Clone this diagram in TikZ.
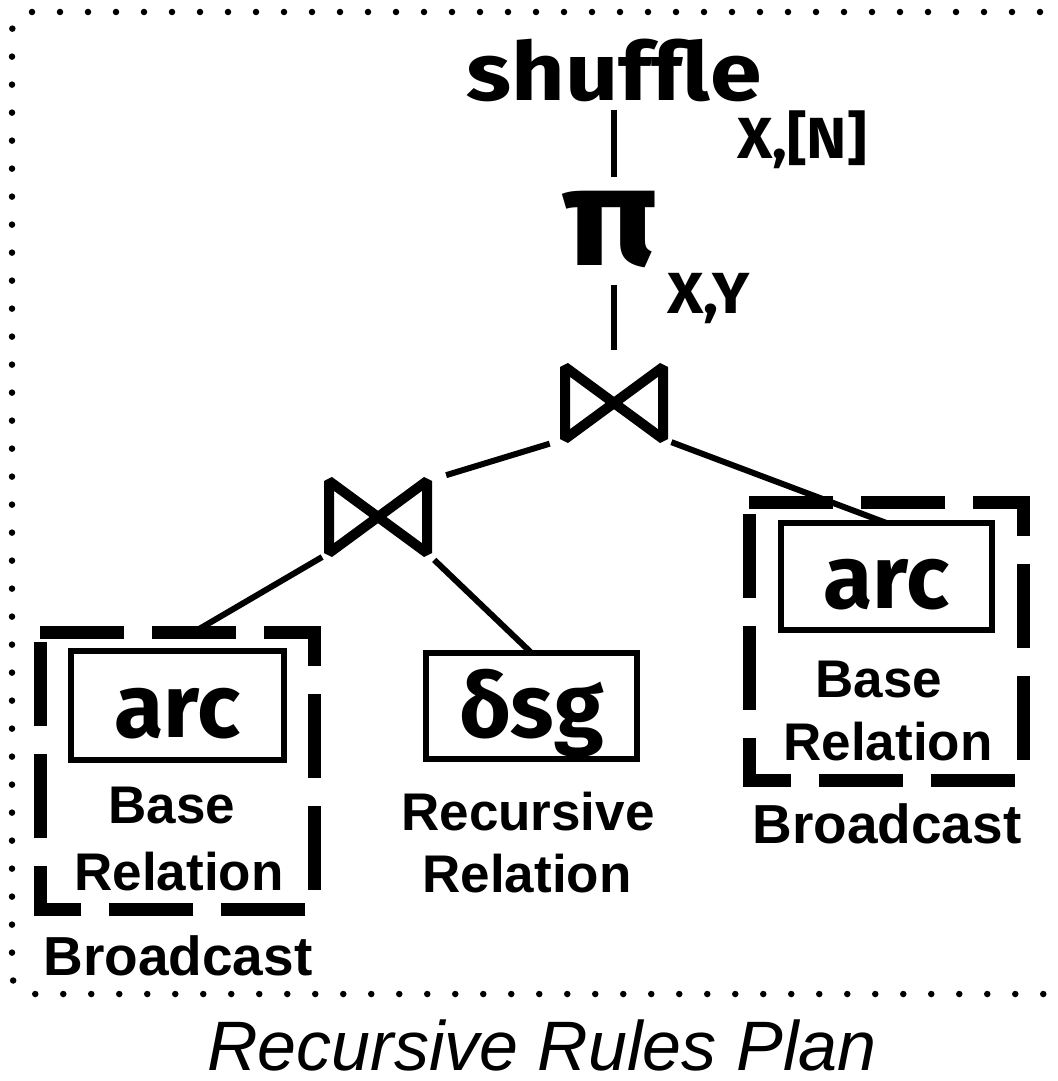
\documentclass[tikz,border=0pt]{standalone}
\usepackage{fontspec}
\setmainfont{Liberation Sans}
\newfontfamily\lucfont{Fira Sans}
\begin{document}
\begin{tikzpicture}[x=1pt,y=-1pt,
  conn/.style={line width=6pt},
  solidbox/.style={draw,line width=6pt,inner sep=0pt,outer sep=0pt},
  dashframe/.style={line width=13pt,dash pattern=on 84pt off 28pt,line join=miter},
  holder/.style={inner sep=0pt,outer sep=0pt},
  bowtie/.style={inner sep=0pt,outer sep=0pt,minimum width=98pt,minimum height=72pt},
  btline/.style={line width=10pt,line join=bevel},
  lab/.style={font=\fontsize{53}{60}\selectfont\bfseries,anchor=base,inner sep=0pt},
  bigtxt/.style={font=\fontsize{90}{90}\selectfont\lucfont\bfseries},
  subtxt/.style={font=\fontsize{58}{58}\selectfont\lucfont\bfseries,anchor=base west,inner sep=0pt}
]
\useasboundingbox (0,0) rectangle (1057,1081);
\fill[white] (0,0) rectangle (1057,1081);

% dotted frame
\draw[line width=6.5pt,line cap=round,dash pattern=on 0pt off 28pt,rounded corners=20pt]
  (1040,12) -- (12,12) -- (12,994) -- (1052,994);

% top operators
\node[anchor=base,inner sep=0pt,font=\fontsize{81}{81}\selectfont\lucfont\bfseries] (shuffle) at (614,100) {\scalebox{1.15}[1]{shuffle}};
\node[subtxt] (subN) at (737,158) {\scalebox{1.05}[1]{X,[N]}};
\node[anchor=base,inner sep=0pt,font=\fontsize{140}{140}\selectfont\lucfont\bfseries] (pi) at (610,265) {\scalebox{1.12}[1]{π}};
\node[subtxt] (subXY) at (667,313) {\scalebox{1.08}[1]{X,Y}};

% joins
\node[bowtie] (j1) at (614,403) {};
\node[bowtie] (j2) at (378,517) {};
\draw[btline] (j1.north west) -- (j1.south east) -- (j1.north east) -- (j1.south west) -- cycle;
\draw[btline] (j2.north west) -- (j2.south east) -- (j2.north east) -- (j2.south west) -- cycle;

% boxes
\node[solidbox,bigtxt,minimum width=213pt,minimum height=109pt,text height=64pt,text depth=0pt] (arcL) at (177.5,705.5) {arc};
\node[solidbox,bigtxt,minimum width=211pt,minimum height=106pt,text height=63pt,text depth=0pt] (dsg) at (531.5,706) {δsg};
\node[solidbox,bigtxt,minimum width=211pt,minimum height=107pt,text height=63pt,text depth=0pt] (arcR) at (886.5,576.5) {arc};

\node[holder,minimum width=274pt,minimum height=277pt] (boxL) at (177,770.5) {};
\node[holder,minimum width=274pt,minimum height=278pt] (boxR) at (886,641) {};
\draw[dashframe] (boxL.north west) -- (boxL.north east) -- (boxL.south east) -- (boxL.south west) -- cycle;
\draw[dashframe] (boxR.north west) -- (boxR.north east) -- (boxR.south east) -- (boxR.south west) -- cycle;

% labels
\node[lab] (baseL) at (172,823) {Base};
\node[lab] (relL) at (179,890) {Relation};
\node[lab,font=\fontsize{55}{60}\selectfont\bfseries] (bcL) at (178,975) {Broadcast};
\node[lab] (recM) at (528,830) {Recursive};
\node[lab] (relM) at (527,892) {Relation};
\node[lab] (baseR) at (879,697) {Base};
\node[lab] (relR) at (888,760) {Relation};
\node[lab,font=\fontsize{55}{60}\selectfont\bfseries] (bcR) at (887,843) {Broadcast};

% connectors
\draw[conn,shorten <=8pt,shorten >=13pt] (shuffle.south -| j1.north) -- (pi.north -| j1.north);
\draw[conn,shorten <=17pt,shorten >=17pt] (pi.south -| j1.north) -- (j1.north);
\draw[conn,shorten <=16pt,shorten >=20pt] (j1.south west) -- (j2.north east);
\draw[conn,shorten <=9pt] (j1.south east) -- (arcR.north);
\draw[conn,shorten <=8pt] (j2.south west) -- (boxL.83);
\draw[conn,shorten <=10pt] (j2.south east) -- (dsg.north);

% caption
\node[anchor=base,inner sep=0pt,font=\fontsize{70}{70}\selectfont\itshape] (cap) at (542,1070) {Recursive Rules Plan};
\end{tikzpicture}
\end{document}
